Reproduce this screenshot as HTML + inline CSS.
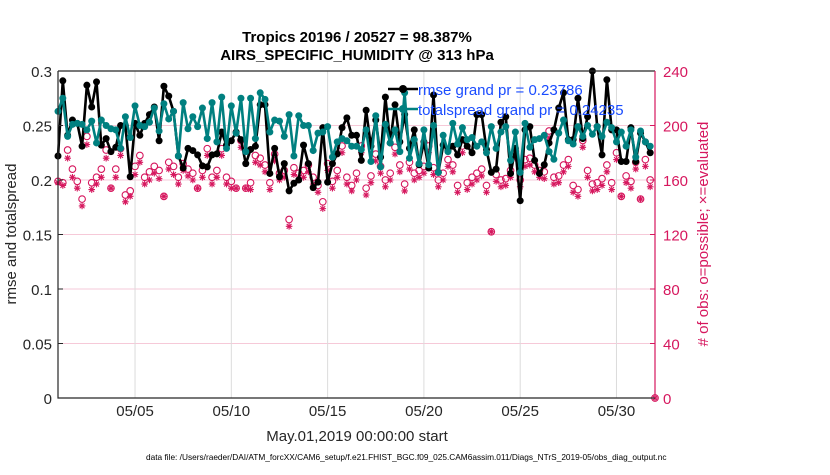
<!DOCTYPE html>
<html><head><meta charset="utf-8"><style>
body{margin:0;background:#fff;}
svg text{font-family:"Liberation Sans",Arial,sans-serif;}
</style></head><body>
<svg id="chart" width="830" height="470" viewBox="0 0 830 470" xmlns="http://www.w3.org/2000/svg">
<g id="grid"></g>
<g id="series"></g>
<g id="axes"></g>
<text x="357" y="42" text-anchor="middle" font-size="15" font-weight="bold" fill="#000">Tropics 20196 / 20527 = 98.387%</text>
<text x="357" y="60" text-anchor="middle" font-size="15" font-weight="bold" fill="#000">AIRS_SPECIFIC_HUMIDITY @ 313 hPa</text>
<text transform="translate(16,234) rotate(-90)" text-anchor="middle" font-size="15" fill="#262626">rmse and totalspread</text>
<text transform="translate(708,234) rotate(-90)" text-anchor="middle" font-size="15" fill="#d6175e"># of obs: o=possible; ×=evaluated</text>
<text x="357" y="441" text-anchor="middle" font-size="15" fill="#262626">May.01,2019 00:00:00 start</text>
<text x="146" y="460" font-size="8.3" fill="#000">data file: /Users/raeder/DAI/ATM_forcXX/CAM6_setup/f.e21.FHIST_BGC.f09_025.CAM6assim.011/Diags_NTrS_2019-05/obs_diag_output.nc</text>
<g id="legend">
  <line x1="388" y1="89" x2="418" y2="89" stroke="#000" stroke-width="2.5"/>
  <circle cx="403" cy="89" r="4" fill="#000"/>
  <text x="418" y="95" font-size="15" fill="#1a4cff">rmse grand pr = 0.23786</text>
  <line x1="388" y1="109" x2="418" y2="109" stroke="#008080" stroke-width="2.5"/>
  <circle cx="403" cy="109" r="4" fill="#008080"/>
  <text x="418" y="115" font-size="15" fill="#1a4cff">totalspread grand pr = 0.24235</text>
</g>
</svg>
<script>
const rmse=[0.222,0.291,0.241,0.255,0.252,0.231,0.287,0.267,0.290,0.232,0.238,0.226,0.230,0.250,0.250,0.203,0.252,0.241,0.252,0.260,0.267,0.236,0.286,0.277,0.263,0.222,0.211,0.229,0.227,0.223,0.213,
0.212,0.223,0.224,0.244,0.232,0.236,0.244,0.237,0.215,0.228,0.231,0.269,0.269,0.206,0.229,0.203,0.215,0.190,0.197,0.200,0.232,0.215,0.193,0.198,0.248,0.198,0.215,0.224,0.248,0.257,0.241,
0.241,0.218,0.264,0.231,0.255,0.221,0.276,0.234,0.269,0.235,0.260,0.229,0.246,0.214,0.235,0.211,0.278,0.207,0.232,0.227,0.231,0.223,0.237,0.231,0.225,0.260,0.260,0.228,0.207,0.210,0.253,
0.258,0.206,0.229,0.181,0.246,0.249,0.218,0.206,0.214,0.234,0.246,0.266,0.280,0.237,0.237,0.275,0.238,0.258,0.300,0.249,0.223,0.292,0.246,0.246,0.217,0.217,0.248,0.217,0.243,0.235,0.225];
const spread=[0.263,0.275,0.240,0.251,0.252,0.251,0.246,0.254,0.234,0.255,0.250,0.247,0.246,0.229,0.258,0.239,0.268,0.250,0.249,0.253,0.266,0.245,0.270,0.256,0.263,0.222,0.271,0.247,0.258,0.249,0.266,
0.238,0.271,0.235,0.276,0.229,0.268,0.243,0.275,0.226,0.275,0.238,0.280,0.274,0.244,0.255,0.254,0.240,0.260,0.222,0.259,0.250,0.250,0.227,0.243,0.244,0.249,0.221,0.235,0.238,0.236,0.231,
0.231,0.228,0.246,0.217,0.259,0.212,0.251,0.234,0.246,0.226,0.280,0.220,0.237,0.215,0.246,0.214,0.250,0.207,0.241,0.226,0.252,0.233,0.248,0.237,0.239,0.231,0.235,0.225,0.249,0.229,0.244,
0.249,0.218,0.244,0.207,0.252,0.230,0.237,0.238,0.241,0.226,0.219,0.243,0.255,0.236,0.233,0.249,0.240,0.250,0.242,0.249,0.240,0.253,0.248,0.235,0.244,0.231,0.246,0.221,0.245,0.235,0.231];
const possible=[159,158,182,168,159,146,192,158,162,168,182,154,168,183,149,152,170,178,162,166,170,167,148,173,170,162,172,168,165,154,167,
183,162,167,183,162,159,154,189,154,158,178,176,171,158,179,165,167,131,169,165,167,171,162,156,144,172,159,167,185,162,156,
165,185,154,163,179,170,160,165,184,171,157,173,165,167,170,185,169,160,165,175,171,156,185,158,162,165,168,156,122,164,160,
161,167,181,160,175,176,171,167,166,196,162,163,171,175,156,153,189,167,157,158,161,171,158,180,148,163,159,173,146,175,160,0];
const evaluated=[158,156,176,162,154,141,186,153,157,162,176,154,162,178,144,148,164,173,157,160,165,161,148,168,164,157,167,163,160,154,162,
178,157,162,178,157,154,154,184,154,153,173,171,166,153,174,160,162,126,164,160,162,166,157,151,139,167,154,162,180,157,152,
160,180,149,158,174,165,155,160,179,166,152,168,160,162,165,180,164,155,160,170,166,151,180,153,157,160,163,151,122,159,155,
156,162,176,155,170,171,166,162,161,191,157,158,166,170,151,148,184,162,152,153,156,166,153,175,148,158,154,168,146,170,155,0];
const leftTicks=[0,0.05,0.1,0.15,0.2,0.25,0.3];
const leftTickLabels=["0","0.05","0.1","0.15","0.2","0.25","0.3"];
const rightTicks=[0,40,80,120,160,200,240];
const dateTicks=[5,10,15,20,25,30];
const dateTickLabels=["05/05","05/10","05/15","05/20","05/25","05/30"];

const L=58,R=655,T=71,B=398;
const X=d=>L+(d-1)*(R-L)/31;
const Y=v=>B-v*(B-T)/0.3;
const Y2=v=>B-v*(B-T)/240;
const dayOf=i=>1+i/4;
const NS="http://www.w3.org/2000/svg";
function mk(tag,attrs,parent){const e=document.createElementNS(NS,tag);for(const k in attrs)e.setAttribute(k,attrs[k]);parent.appendChild(e);return e;}
const grid=document.getElementById('grid'),ser=document.getElementById('series'),ax=document.getElementById('axes');

leftTicks.forEach((t,i)=>{
  const g=mk('line',{x1:L,x2:R,y1:Y(t),y2:Y(t),stroke:'#f6c9d8','stroke-width':1},grid);
  
  
  const tk=mk('line',{x1:L,x2:L+5,y1:Y(t),y2:Y(t),stroke:'#262626'},ax);
  
  
  const tx=mk('text',{x:L-6,y:Y(t)+6,'text-anchor':'end','font-size':15,fill:'#262626'},ax);
  tx.textContent=leftTickLabels[i];
  
  
});
rightTicks.forEach(t=>{
  const tk=mk('line',{x1:R-5,x2:R,y1:Y2(t),y2:Y2(t),stroke:'#d6175e'},ax);
  
  
  const tx=mk('text',{x:R+8,y:Y2(t)+6,'font-size':15,fill:'#d6175e'},ax);
  tx.textContent=String(t);
  
  
});
dateTicks.forEach((d,i)=>{
  const g=mk('line',{x1:X(d),x2:X(d),y1:T,y2:B,stroke:'#dcdcdc','stroke-width':1},grid);
  
  
  const tx=mk('text',{x:X(d),y:416,'text-anchor':'middle','font-size':15,fill:'#262626'},ax);
  tx.textContent=dateTickLabels[i];
  
  
});
const ab=mk('path',{d:`M${L},${T}H${R}M${L},${T}V${B}H${R}`,stroke:'#262626','stroke-width':1.2,fill:'none'},ax);


const ar=mk('line',{x1:R,x2:R,y1:T,y2:B,stroke:'#d6175e','stroke-width':1.2},ax);



possible.forEach((v,i)=>{
  const c=mk('circle',{cx:X(dayOf(i)),cy:Y2(v),r:3.3,fill:'none',stroke:'#d6175e','stroke-width':1.1},ser);
  
  
});
evaluated.forEach((v,i)=>{
  const x=X(dayOf(i)),y=Y2(v),s=3.3;
  const p=mk('path',{d:`M${x-s},${y}H${x+s}M${x},${y-s}V${y+s}M${x-2.4},${y-2.4}L${x+2.4},${y+2.4}M${x-2.4},${y+2.4}L${x+2.4},${y-2.4}`,stroke:'#d6175e','stroke-width':1.1},ser);
  
  
});
function line(vals,color,name){
  const d=vals.map((v,i)=>(i?'L':'M')+X(dayOf(i)).toFixed(1)+','+Y(v).toFixed(1)).join('');
  const p=mk('path',{d:d,stroke:color,'stroke-width':2.6,fill:'none','stroke-linejoin':'round'},ser);
  
  
  vals.forEach((v,i)=>{
    const c=mk('circle',{cx:X(dayOf(i)),cy:Y(v),r:3.5,fill:color},ser);
    
    
  });
}
line(rmse,'#000','rmse');
line(spread,'#008080','totalspread');
</script>
</body></html>
